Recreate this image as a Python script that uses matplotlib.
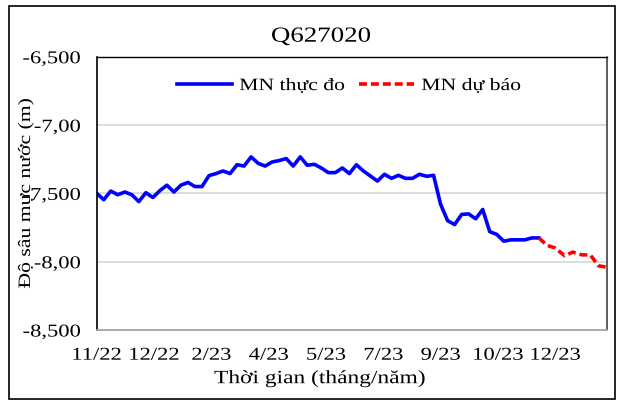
import numpy as np
import matplotlib
matplotlib.use("Agg")
import matplotlib.pyplot as plt
from matplotlib.patches import Rectangle
from matplotlib.patheffects import AbstractPathEffect
from matplotlib.transforms import Affine2D
from matplotlib.path import Path

plt.rcParams['font.family'] = ['Liberation Serif', 'DejaVu Serif']

# --- data ---
obs_days = list(range(0, 384, 6))  # observed, roughly every 6 days
obs_depth = [-7.50, -7.546, -7.483, -7.51, -7.49, -7.51, -7.56, -7.495, -7.53, -7.48,
             -7.44, -7.49, -7.44, -7.42, -7.45, -7.45, -7.37, -7.355, -7.336, -7.355,
             -7.29, -7.30, -7.233, -7.28, -7.30, -7.27, -7.26, -7.245, -7.30, -7.233,
             -7.294, -7.287, -7.314, -7.348, -7.348, -7.314, -7.355, -7.29, -7.336, -7.373,
             -7.41, -7.36, -7.39, -7.368, -7.39, -7.39, -7.36, -7.375, -7.368, -7.58,
             -7.70, -7.728, -7.654, -7.65, -7.686, -7.618, -7.78, -7.80, -7.85, -7.84,
             -7.84, -7.84, -7.826, -7.826]
fc_days = [378, 385, 392, 400, 407, 415, 422, 429, 436]
fc_depth = [-7.826, -7.88, -7.90, -7.956, -7.93, -7.95, -7.95, -8.03, -8.04]

xtick_days = [0, 49, 98, 147, 196, 245, 294, 343, 392]
xtick_labels = ["11/22", "12/22", "2/23", "4/23", "5/23", "7/23", "9/23", "10/23", "12/23"]
ytick_vals = [-6.5, -7.0, -7.5, -8.0, -8.5]
ytick_labels = ["-6,500", "-7,00", "-7,500", "-8,00", "-8,500"]


class Widen(AbstractPathEffect):
    # the source picture is stretched sideways, so widen the glyphs a bit
    def __init__(self, sx, anchor='center'):
        super().__init__()
        self.sx = sx
        self.anchor = anchor

    def draw_path(self, renderer, gc, tpath, affine, rgbFace=None):
        v = tpath.vertices
        if tpath.codes is not None:
            v = v[tpath.codes != Path.CLOSEPOLY]
        if len(v) == 0:
            return
        xs = v[:, 0]
        x0 = {'left': xs.min(), 'right': xs.max(), 'center': (xs.min() + xs.max()) / 2}[self.anchor]
        t = Affine2D().translate(-x0, 0).scale(self.sx, 1).translate(x0, 0) + affine
        renderer.draw_path(gc, tpath, t, rgbFace)


SX = 1.25

fig = plt.figure(figsize=(6.18, 4.01), dpi=100)
fig.patches.append(Rectangle((0.0146, 0.005), 0.981, 0.980, transform=fig.transFigure,
                             fill=False, edgecolor='black', linewidth=1.2))

ax = fig.add_axes([0.1565, 0.177, 0.8252, 0.6815])

ax.plot(obs_days, obs_depth, color='#0000FF', lw=2.6, label='MN thực đo')
ax.plot(fc_days, fc_depth, color='#FF0000', lw=2.6, ls=(0, (2.2, 1.1)), label='MN dự báo')

ax.set_xlim(0, 436)
ax.set_ylim(-8.5, -6.5)
ax.set_yticks(ytick_vals, ytick_labels)
ax.set_xticks(xtick_days, xtick_labels)
ax.tick_params(axis='both', length=0, labelsize=13)
ax.tick_params(axis='y', pad=12)
ax.tick_params(axis='x', pad=12)
ax.grid(axis='y', color='#d9d9d9', lw=1.3)
ax.set_axisbelow(True)

ax.spines['left'].set_linewidth(1.2)
ax.spines['top'].set_linewidth(1.0)
ax.spines['right'].set_color('#505050')
ax.spines['right'].set_linewidth(1.3)
ax.spines['right'].set_linestyle((0, (1, 1)))
ax.spines['bottom'].set_color('#a6a6a6')
ax.spines['bottom'].set_linewidth(1.3)
ax.spines['bottom'].set_linestyle((0, (1, 1)))

xl = ax.set_xlabel('Thời gian (tháng/năm)', fontsize=13.5)
ax.xaxis.set_label_coords(0.438, -0.146)
yl = ax.set_ylabel('Độ sâu mực nước (m)', fontsize=12.5)
ax.yaxis.set_label_coords(-0.123, 0.5)

title = fig.text(321 / 618, 1 - 41.7 / 401, 'Q627020', ha='center', va='baseline', fontsize=15.5)

leg = ax.legend(ncol=2, loc='center left', bbox_to_anchor=(0.157, 0.893), frameon=False,
                fontsize=12.5, handlelength=3.2, handletextpad=0.4, columnspacing=2.0,
                borderpad=0, borderaxespad=0)

for t in ax.get_xticklabels() + [xl, yl, title]:
    t.set_path_effects([Widen(SX, 'center')])
for t in ax.get_yticklabels():
    t.set_path_effects([Widen(SX, 'right')])
for t in leg.get_texts():
    t.set_path_effects([Widen(SX, 'left')])

fig.savefig('out.png', dpi=100)
